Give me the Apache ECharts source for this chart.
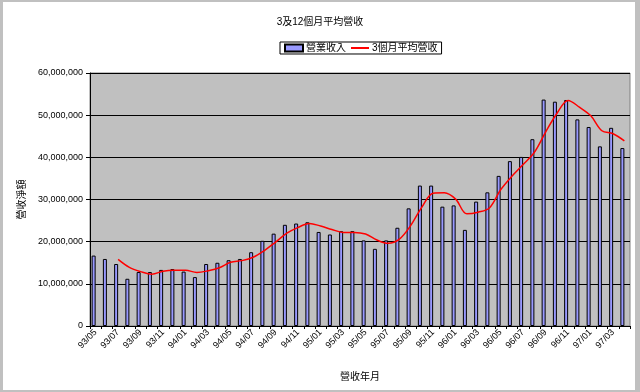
<!DOCTYPE html>
<html><head><meta charset="utf-8">
<script src="https://cdn.jsdelivr.net/npm/echarts@6/dist/echarts.min.js"></script>
<style>
html,body{margin:0;padding:0;background:#fff;}
#c{width:640px;height:392px;position:relative;}
#frame{position:absolute;left:0;top:0;width:640px;height:392px;box-sizing:border-box;border-left:3px solid #c0c0c0;border-top:2px solid #c0c0c0;border-right:5px solid #c0c0c0;border-bottom:2px solid #c0c0c0;pointer-events:none;}
</style></head>
<body>
<div id="c"></div><div id="frame"></div>
<script>
var months = ['93/05','93/06','93/07','93/08','93/09','93/10','93/11','93/12',
'94/01','94/02','94/03','94/04','94/05','94/06','94/07','94/08','94/09','94/10','94/11','94/12',
'95/01','95/02','95/03','95/04','95/05','95/06','95/07','95/08','95/09','95/10','95/11','95/12',
'96/01','96/02','96/03','96/04','96/05','96/06','96/07','96/08','96/09','96/10','96/11','96/12',
'97/01','97/02','97/03','97/04'];
var revenue = [16.7,15.9,14.7,11.2,12.8,12.8,13.3,13.5,
12.9,11.6,14.7,15.0,15.6,15.9,17.5,20.2,21.9,24.0,24.3,24.6,
22.3,21.7,22.5,22.5,20.3,18.3,20.3,23.3,27.9,33.3,33.3,28.3,
28.6,22.8,29.5,31.7,35.6,39.1,40.1,44.3,53.7,53.2,53.6,49.0,
47.2,42.6,47.0,42.2];
var avg3 = [null,null,15.8,13.9,12.9,12.3,13.0,13.2,
13.2,12.7,13.1,13.8,15.1,15.5,16.3,17.9,19.9,22.0,23.4,24.3,
23.7,22.9,22.2,22.2,21.8,20.4,19.6,20.6,23.8,28.2,31.5,31.6,
30.1,26.6,27.0,28.0,32.3,35.5,38.3,41.2,46.0,50.4,53.5,51.9,
49.9,46.3,45.6,43.9];
var yTicks = [0,10,20,30,40,50,60];

var M = 1000000;
var FONT = "'Liberation Sans','Noto Sans CJK TC',sans-serif";
var chart = echarts.init(document.getElementById('c'));
function fmt(v){ return v===0 ? '0' : String(v).replace(/\B(?=(\d{3})+(?!\d))/g, ','); }
chart.setOption({
  animation:false,
  backgroundColor:'#ffffff',
  textStyle:{fontFamily:FONT,color:'#000'},
  title:{text:'3及12個月平均營收',left:'center',top:12,
    textStyle:{fontSize:10,fontWeight:'normal',color:'#000',fontFamily:FONT}},
  legend:{data:[{name:'營業收入',icon:'rect'},{name:'3個月平均營收',itemStyle:{opacity:0}}],left:280,top:42,
    borderColor:'#000',borderWidth:1,backgroundColor:'#fff',padding:[1,4,1,4],
    itemWidth:18,itemHeight:7,itemGap:4,
    textStyle:{fontSize:10,color:'#000',fontFamily:FONT,padding:[0,0,0,-2]}},
  grid:{left:90,right:10,top:73,bottom:66,show:true,backgroundColor:'#c0c0c0',borderColor:'#808080',borderWidth:1},
  xAxis:{type:'category',data:months,boundaryGap:true,
    name:'營收年月',nameLocation:'middle',nameGap:46,
    nameTextStyle:{fontSize:10,color:'#000',fontFamily:FONT},
    axisLine:{lineStyle:{color:'#000',width:1}},
    axisTick:{show:true,length:3,interval:0,lineStyle:{color:'#000'}},
    axisLabel:{interval:1,rotate:45,fontSize:9,color:'#000',margin:5,fontFamily:FONT},
    splitLine:{show:false}},
  yAxis:{type:'value',min:yTicks[0]*M,max:yTicks[yTicks.length-1]*M,interval:10*M,
    name:'營收淨額',nameLocation:'middle',nameGap:62,nameRotate:90,
    nameTextStyle:{fontSize:10,color:'#000',fontFamily:FONT},
    axisLine:{show:true,lineStyle:{color:'#000',width:1}},
    axisTick:{show:true,length:4,lineStyle:{color:'#000'}},
    axisLabel:{fontSize:9,color:'#000',margin:7,formatter:fmt,fontFamily:FONT},
    splitLine:{show:true,lineStyle:{color:'#000',width:1}}},
  series:[
    {name:'營業收入',type:'bar',data:revenue.map(function(v){return v*M;}),
      barWidth:4,barGap:'0%',
      itemStyle:{color:'#9999ff',borderColor:'#000',borderWidth:1}},
    {name:'12個月平均營收',type:'bar',data:months.map(function(){return null;}),barWidth:4,
      itemStyle:{color:'#993366'}},
    {name:'3個月平均營收',type:'line',data:avg3.map(function(v){return v===null?null:v*M;}),
      smooth:0.35,symbol:'none',connectNulls:false,
      lineStyle:{color:'#ff0000',width:1.5},itemStyle:{color:'#ff0000'}}
  ]
});
</script>
</body></html>
